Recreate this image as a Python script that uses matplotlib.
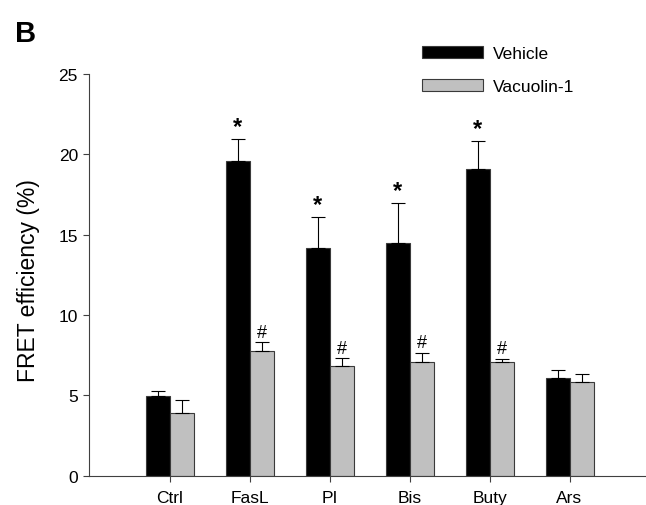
import matplotlib
matplotlib.use('Agg')
from matplotlib import pyplot as plt
import numpy as np

plt.rcParams['font.family'] = ['Liberation Sans', 'DejaVu Sans']

groups = ['Ctrl', 'FasL', 'PI', 'Bis', 'Buty', 'Ars']
vehicle = [4.94, 19.59, 14.14, 14.51, 19.07, 6.08]
vehicle_err = [0.31, 1.35, 1.96, 2.45, 1.74, 0.51]
vacuolin = [3.90, 7.77, 6.84, 7.09, 7.05, 5.81]
vacuolin_err = [0.83, 0.53, 0.46, 0.54, 0.21, 0.50]
star_marks = ['', '*', '*', '*', '*', '']
hash_marks = ['', '#', '#', '#', '#', '']


def main():
    fig = plt.figure(figsize=(6.46, 5.06), dpi=100)
    ax = fig.add_axes([0.1378, 0.0579, 0.8622, 0.794])

    x = np.arange(len(groups))
    w = 0.3
    edge = '#3a3a3a'
    err_kw = dict(ecolor='black', elinewidth=0.8, capsize=5, capthick=0.8)

    ax.bar(x - w / 2, vehicle, w, color='black', edgecolor=edge, linewidth=0.8,
           yerr=[np.zeros(len(x)), vehicle_err], error_kw=err_kw, label='Vehicle')
    ax.bar(x + w / 2, vacuolin, w, color='#c0c0c0', edgecolor=edge, linewidth=0.8,
           yerr=[np.zeros(len(x)), vacuolin_err], error_kw=err_kw, label='Vacuolin-1')

    # significance marks above the error bars
    for i in range(len(x)):
        if star_marks[i]:
            ax.text(x[i] - w / 2, vehicle[i] + vehicle_err[i] + 0.4, star_marks[i],
                    ha='center', va='baseline', fontsize=17, fontweight='bold')
        if hash_marks[i]:
            ax.text(x[i] + w / 2, vacuolin[i] + vacuolin_err[i] + 0.35, hash_marks[i],
                    ha='center', va='baseline', fontsize=13)

    ax.set_xlim(-1.006, 5.956)
    ax.set_ylim(0, 25)
    ax.set_yticks([0, 5, 10, 15, 20, 25])
    ax.set_xticks(x)
    ax.set_xticklabels(groups)
    ax.tick_params(axis='both', direction='out', length=4, width=0.8,
                   color='#404040', labelsize=12.5, pad=4)
    ax.tick_params(axis='x', pad=6)
    for side in ['top', 'right']:
        ax.spines[side].set_visible(False)
    for side in ['left', 'bottom']:
        ax.spines[side].set_color('#404040')
        ax.spines[side].set_linewidth(0.8)

    ax.set_ylabel('FRET efficiency (%)', fontsize=16.5, labelpad=13.5, y=0.488)

    ax.legend(loc='upper left', bbox_to_anchor=(421.7 / 646, 1 - 47 / 506),
              bbox_transform=fig.transFigure, frameon=False, fontsize=12.5,
              handlelength=3.55, handleheight=0.63, handletextpad=0.55,
              labelspacing=1.05, borderpad=0, borderaxespad=0)

    fig.text(15 / 646, 1 - 42 / 506, 'B', fontsize=21, fontweight='bold',
             ha='left', va='baseline')

    fig.savefig('out.png', dpi=100)


if __name__ == '__main__':
    main()
